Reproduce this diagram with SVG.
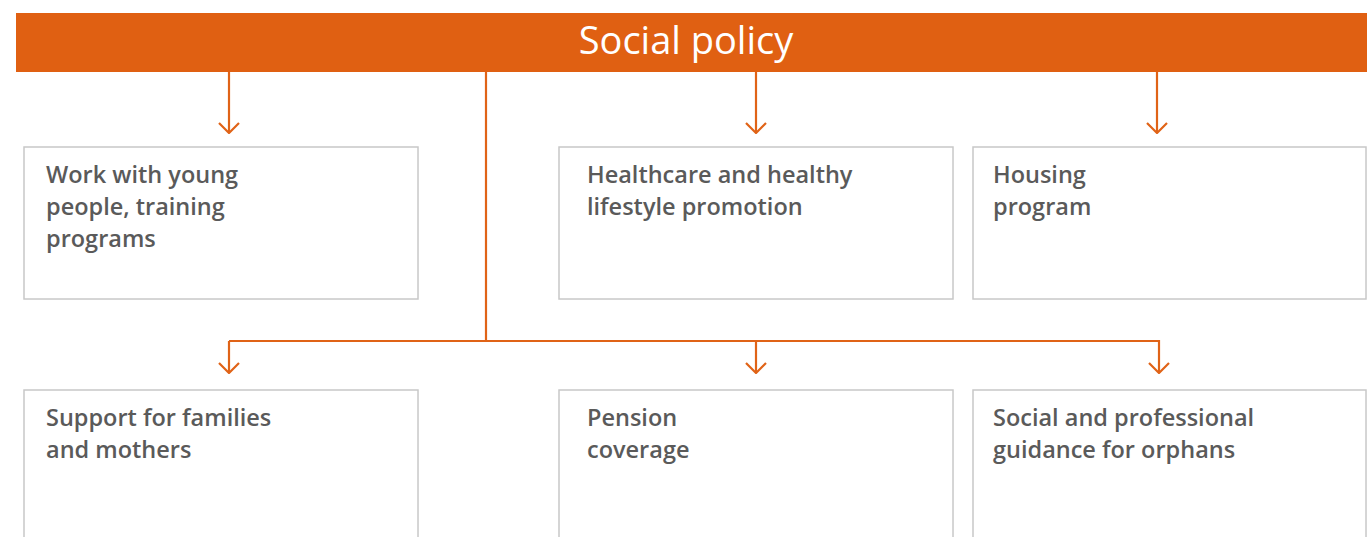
<svg xmlns="http://www.w3.org/2000/svg" width="1367" height="537" viewBox="0 0 1367 537">
<style>
.box{fill:#fff;stroke:#c8c8c8;stroke-width:1.5}
.t{font-family:"Open Sans","Liberation Sans",sans-serif;font-size:23.5px;font-weight:600;fill:#5a5a5a}
.c{fill:none;stroke:#e06317;stroke-width:2.2}
</style>
<defs>
<marker id="ah" viewBox="0 0 12 22" refX="11" refY="11" markerWidth="12" markerHeight="22" markerUnits="userSpaceOnUse" orient="auto">
<path d="M1 1 L11 11 L1 21" fill="none" stroke="#e06317" stroke-width="2.2"/>
</marker>
</defs>
<rect width="1367" height="537" fill="#fff"/>
<g id="header">
<rect x="16" y="13" width="1351" height="59" fill="#e06012"/>
<text x="686" y="54" text-anchor="middle" font-family="'Open Sans','Liberation Sans',sans-serif" font-size="38" fill="#fff">Social policy</text>
</g>
<g id="connectors">
<path class="c" d="M229 72 V133" marker-end="url(#ah)"/>
<path class="c" d="M756 72 V133" marker-end="url(#ah)"/>
<path class="c" d="M1157 72 V133" marker-end="url(#ah)"/>
<path class="c" d="M486 72 V341"/>
<path class="c" d="M229 341 H1159"/>
<path class="c" d="M229 341 V373" marker-end="url(#ah)"/>
<path class="c" d="M756 341 V373" marker-end="url(#ah)"/>
<path class="c" d="M1159 340 V373" marker-end="url(#ah)"/>
</g>
<g id="n1"><rect class="box" x="24" y="147" width="394" height="152"/>
<text class="t" x="46" y="183">Work with young</text><text class="t" x="46" y="215">people, training</text><text class="t" x="46" y="247">programs</text></g>
<g id="n2"><rect class="box" x="559" y="147" width="394" height="152"/>
<text class="t" x="587" y="183">Healthcare and healthy</text><text class="t" x="587" y="215">lifestyle promotion</text></g>
<g id="n3"><rect class="box" x="973" y="147" width="393" height="152"/>
<text class="t" x="993" y="183">Housing</text><text class="t" x="993" y="215">program</text></g>
<g id="n4"><rect class="box" x="24" y="390" width="394" height="160"/>
<text class="t" x="46" y="426">Support for families</text><text class="t" x="46" y="458">and mothers</text></g>
<g id="n5"><rect class="box" x="559" y="390" width="394" height="160"/>
<text class="t" x="587" y="426">Pension</text><text class="t" x="587" y="458">coverage</text></g>
<g id="n6"><rect class="box" x="973" y="390" width="393" height="160"/>
<text class="t" x="993" y="426">Social and professional</text><text class="t" x="993" y="458">guidance for orphans</text></g>
</svg>
